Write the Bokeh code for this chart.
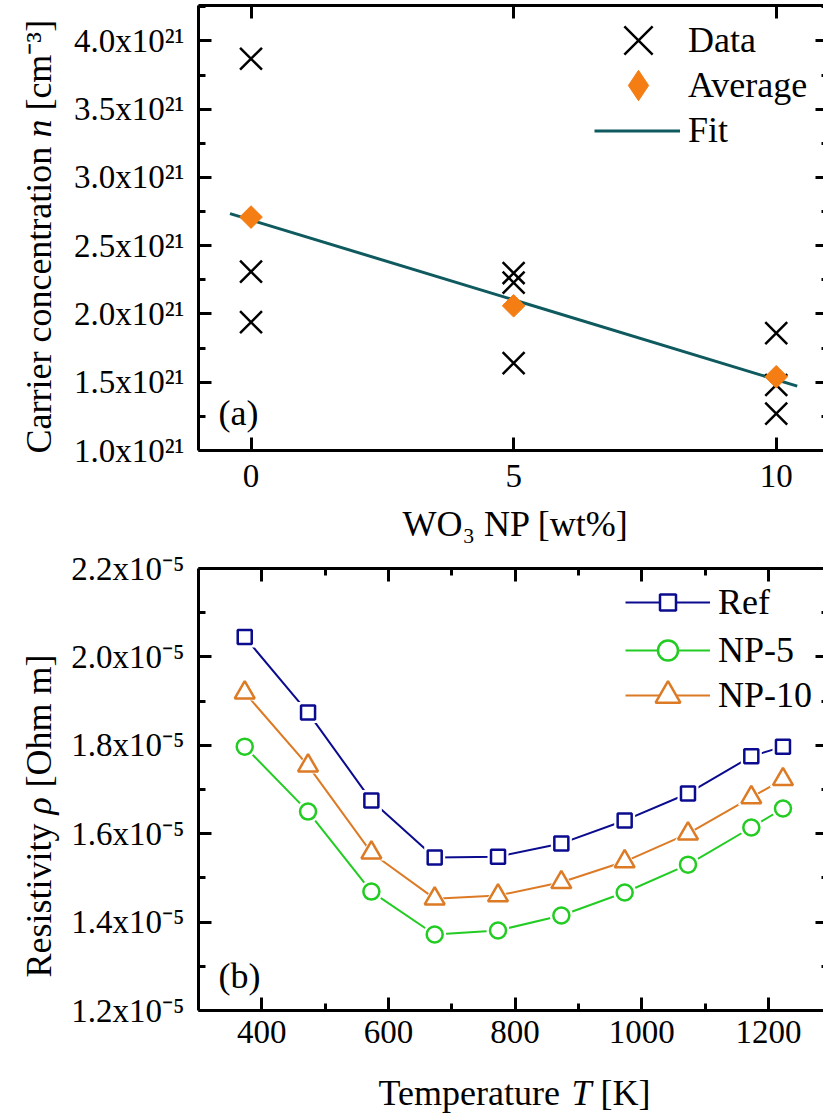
import numpy as np
from bokeh.plotting import figure
from bokeh.layouts import column
from bokeh.models import LinearAxis, FixedTicker, Range1d, Legend, LegendItem, Label
from bokeh.embed import file_html
from bokeh.resources import INLINE

SERIF = "Liberation Serif"

# ---------------- (a) carrier concentration, in units of 1e21 cm^-3 ----------------
wo3_content = [0, 0, 0, 5, 5, 5, 10, 10, 10]          # wt% WO3 nanoparticles
n_measured = [3.87, 2.31, 1.94, 2.30, 2.23, 1.64, 1.86, 1.48, 1.27]
wo3_levels = [0, 5, 10]
n_average = [2.71, 2.06, 1.54]
fit_span = [-0.4, 10.4]
wo3_ticks = [0, 5, 10]
n_ticks = [1.0, 1.5, 2.0, 2.5, 3.0, 3.5, 4.0]
n_minor = [1.25, 1.75, 2.25, 2.75, 3.25, 3.75, 4.25]
n_tick_labels = ["1.0x10²¹", "1.5x10²¹", "2.0x10²¹", "2.5x10²¹",
                 "3.0x10²¹", "3.5x10²¹", "4.0x10²¹"]

# ---------------- (b) resistivity, in units of 1e-5 Ohm m ----------------
temperature = [373, 473, 573, 673, 773, 873, 973, 1073, 1173, 1223]
rho_ref = [2.045, 1.874, 1.675, 1.546, 1.548, 1.578, 1.630, 1.691, 1.775, 1.797]
rho_np5 = [1.797, 1.650, 1.469, 1.372, 1.381, 1.415, 1.467, 1.530, 1.614, 1.657]
rho_np10 = [1.919, 1.754, 1.557, 1.453, 1.460, 1.490, 1.537, 1.600, 1.682, 1.723]
t_ticks = [400, 600, 800, 1000, 1200]
t_minor = [500, 700, 900, 1100]
rho_ticks = [1.2, 1.4, 1.6, 1.8, 2.0, 2.2]
rho_minor = [1.3, 1.5, 1.7, 1.9, 2.1]
rho_tick_labels = ["1.2x10⁻⁵", "1.4x10⁻⁵", "1.6x10⁻⁵", "1.8x10⁻⁵",
                   "2.0x10⁻⁵", "2.2x10⁻⁵"]

# Times/Liberation Serif advance widths (1/1000 em) for laying out mixed-style labels
ADV = {" ": 250, "[": 333, "]": 333, "(": 333, ")": 333, "C": 667, "K": 722,
       "O": 722, "R": 667, "T": 611, "a": 444, "c": 444, "e": 444, "i": 278,
       "m": 778, "n": 500, "o": 500, "p": 500, "r": 333, "s": 389, "t": 278,
       "u": 500, "v": 500, "y": 500, "h": 500}


def text_width(s, size, italic=False):
    if italic and s == "T":
        return 0.556 * size
    return sum(ADV.get(ch, 500) for ch in s) / 1000.0 * size


W = 823
LABEL_PX = 36
TICK_PX = "33px"


class Panel:
    """A figure whose frame fills the canvas; the plot box sits at fixed pixels."""

    def __init__(self, height, box, xr, yr):
        self.h = height
        self.box = box            # (left, right, top, bottom) canvas pixels
        self.xr, self.yr = xr, yr
        l, r, t, b = box
        kx = (xr[1] - xr[0]) / (r - l)
        ky = (yr[1] - yr[0]) / (b - t)
        self.kx, self.ky = kx, ky
        full_x = (xr[0] - l * kx, xr[0] + (W - l) * kx)
        full_y = (yr[0] - (height - b) * ky, yr[1] + t * ky)
        self.p = figure(width=W, height=height, x_range=Range1d(*full_x),
                        y_range=Range1d(*full_y), min_border=0,
                        x_axis_location=None, y_axis_location=None,
                        output_backend="svg", toolbar_location=None)
        self.p.outline_line_color = None
        self.p.background_fill_color = "white"
        self.p.border_fill_color = "white"
        for g in self.p.grid:
            g.visible = False

    def data(self, px, py):
        l, r, t, b = self.box
        return (self.xr[0] + (px - l) * self.kx, self.yr[1] - (py - t) * self.ky)

    def frame_axis(self, side, ticks, minor, labels=None, show_labels=True,
                   line=True, tick_in=13, minor_in=7, standoff=12):
        if side in ("left", "right"):
            loc = self.xr[0] if side == "left" else self.xr[1]
            bounds = self.yr
        else:
            loc = self.yr[0] if side == "below" else self.yr[1]
            bounds = self.xr
        ax = LinearAxis(fixed_location=loc, bounds=bounds)
        ax.ticker = FixedTicker(ticks=ticks, minor_ticks=minor)
        ax.axis_line_width = 3
        ax.axis_line_color = "black" if line else None
        ax.major_tick_in = tick_in
        ax.major_tick_out = 0
        ax.minor_tick_in = minor_in
        ax.minor_tick_out = 0
        ax.major_tick_line_width = 3
        ax.minor_tick_line_width = 3
        ax.major_tick_line_color = "black"
        ax.minor_tick_line_color = "black"
        ax.major_label_text_font = SERIF
        ax.major_label_text_font_size = TICK_PX
        ax.major_label_text_color = "black"
        ax.major_label_standoff = standoff
        if show_labels:
            if labels:
                ax.major_label_overrides = dict(zip(ticks, labels))
        else:
            ax.major_label_overrides = {t: "" for t in ticks}
        self.p.add_layout(ax, side)
        return ax

    def text(self, text, px, py, size=LABEL_PX, align="left", italic=False,
             vertical=False):
        x, y = self.data(px, py)
        self.p.add_layout(Label(x=x, y=y, text=text, text_font=SERIF,
                                text_font_size=f"{size}px",
                                text_font_style="italic" if italic else "normal",
                                text_align=align, text_baseline="middle",
                                angle=np.pi / 2 if vertical else 0,
                                text_color="black"))

    def text_run(self, pieces, px, py, vertical=False):
        """Consecutive pieces of (text, italic); px/py is the start on the text's mid-line."""
        step = (lambda d: (0, -d)) if vertical else (lambda d: (d, 0))
        for text, italic in pieces:
            lead = len(text) - len(text.lstrip(" "))
            dx, dy = step(text_width(" " * lead, LABEL_PX))
            px, py = px + dx, py + dy
            body = text.strip(" ")
            self.text(body, px, py, italic=italic, vertical=vertical)
            rest = text[lead:]
            dx, dy = step(text_width(rest, LABEL_PX, italic))
            px, py = px + dx, py + dy

    def key(self, label, renderers, glyph_left, center_y, glyph_w, glyph_h, text_x):
        """Single-row legend entry: glyph box starts at glyph_left, row centred on center_y."""
        leg = Legend(items=[LegendItem(label=label, renderers=renderers)],
                     location=(glyph_left, self.h - (center_y + glyph_h / 2)))
        leg.glyph_width = glyph_w
        leg.glyph_height = glyph_h
        leg.label_height = glyph_h
        leg.spacing = 0
        leg.padding = 0
        leg.margin = 0
        leg.label_standoff = int(round(text_x - glyph_left - glyph_w))
        leg.label_text_font = SERIF
        leg.label_text_font_size = "36px"
        leg.label_text_color = "black"
        leg.border_line_color = None
        leg.background_fill_alpha = 0
        self.p.add_layout(leg)


# ======================= panel (a) =======================
A = Panel(548, (198, 823, 5, 450), (-1.0, 10.9), (1.0, 4.26))
pa = A.p
A.frame_axis("below", wo3_ticks, [], standoff=14)
A.frame_axis("left", n_ticks, n_minor, n_tick_labels, standoff=14)
A.frame_axis("above", wo3_ticks, [], show_labels=False)
A.frame_axis("right", n_ticks, n_minor, show_labels=False, line=False,
             tick_in=8, minor_in=2)

slope, intercept = np.polyfit(wo3_levels, n_average, 1)
fit_vals = [slope * x + intercept for x in fit_span]
fit_r = pa.line(fit_span, fit_vals, line_color="#0e5a5e", line_width=3)
data_r = pa.scatter(wo3_content, n_measured, marker="x", size=31,
                    line_color="black", line_width=2.5)
avg_r = pa.scatter(wo3_levels, n_average, marker="square", angle=np.pi / 4, size=16,
                   fill_color="#f47d14", line_color="#f47d14")
# diamond swatch used for the legend entry
avg_key = pa.scatter(wo3_levels, n_average, marker="diamond", size=16,
                     fill_color="#f47d14", line_color="#f47d14", visible=False)

A.key("Data", [data_r], 588, 40, 100, 100, 688)
A.key("Average", [avg_key], 600, 85, 76, 76, 688)
A.key("Fit", [fit_r], 594, 130, 86, 45, 688)

A.text("(a)", 218, 412)
A.text_run([("WO₃ NP [wt%]", False)], 402, 523)
A.text_run([("Carrier concentration ", False), ("n", True), (" [cm⁻³]", False)],
           38, 453, vertical=True)

# ======================= panel (b) =======================
B = Panel(572, (198, 823, 20, 462), (300, 1287), (1.2, 2.2))
pb = B.p
B.frame_axis("below", t_ticks, t_minor, standoff=10)
B.frame_axis("left", rho_ticks, rho_minor, rho_tick_labels, standoff=14)
B.frame_axis("above", t_ticks, t_minor, show_labels=False)
B.frame_axis("right", rho_ticks, rho_minor, show_labels=False, line=False,
             tick_in=8, minor_in=2)

series = [("Ref", rho_ref, "#0b0b8f", "square", 14, 40, 55),
          ("NP-5", rho_np5, "#22cc22", "circle", 16, 50, 102),
          ("NP-10", rho_np10, "#dc7a25", "triangle", 20, 62, 147)]
for name, vals, color, marker, size, key_h, key_y in series:
    ln = pb.line(temperature, vals, line_color=color, line_width=2)
    gap = pb.scatter(temperature, vals, marker=marker, size=size + 7,
                     fill_color="white", line_color=None)
    mk = pb.scatter(temperature, vals, marker=marker, size=size, fill_color="white",
                    line_color=color, line_width=2.5)
    B.key(name, [ln, gap, mk], 625, key_y, 85, key_h, 718)

B.text("(b)", 218, 427)
B.text_run([("Temperature ", False), ("T", True), (" [K]", False)], 378, 544)
B.text_run([("Resistivity ", False), ("ρ", True), (" [Ohm m]", False)],
           38, 429, vertical=True)

layout = column(pa, pb, spacing=0)
open("out.html", "w").write(file_html(layout, INLINE))
